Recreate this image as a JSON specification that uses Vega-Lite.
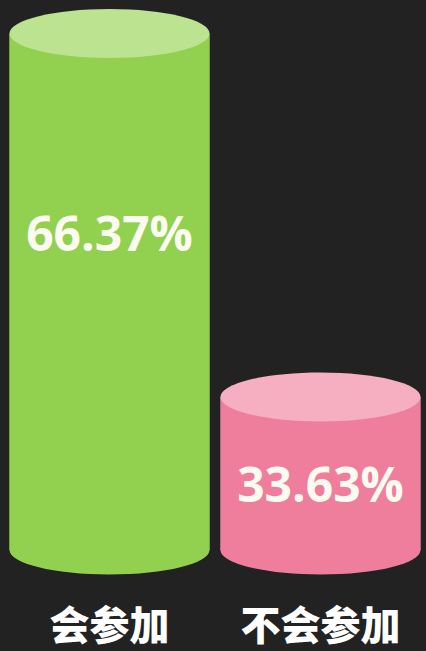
{
  "$schema": "https://vega.github.io/schema/vega-lite/v6.json",
  "width": 422,
  "height": 580,
  "autosize": "none",
  "padding": {"left": 4, "right": 0, "top": 0, "bottom": 71},
  "background": "#222222",
  "config": {"view": {"stroke": null}},
  "data": {"values": [
    {"option": "会参加", "value": 66.37, "label": "66.37%"},
    {"option": "不会参加", "value": 33.63, "label": "33.63%"}
  ]},
  "encoding": {
    "x": {
      "field": "option", "type": "nominal", "sort": null,
      "scale": {"paddingInner": 0.05, "paddingOuter": 0.025},
      "axis": {"title": null, "domain": false, "ticks": false, "labelAngle": 0,
        "labelFont": "Noto Sans CJK SC", "labelFontWeight": 900, "labelFontSize": 40,
        "labelColor": "#ffffff", "labelPadding": 27, "labelLimit": 400}
    }
  },
  "layer": [
    {
      "mark": {"type": "point", "filled": true, "opacity": 1, "size": 40000, "strokeWidth": 0,
        "shape": "M-1,0A1,0.245,0,1,0,1,0A1,0.245,0,1,0,-1,0Z"},
      "encoding": {
        "y": {"datum": 19.85, "type": "quantitative", "scale": {"domain": [19.85, 66.37], "range": [550, 33.5], "zero": false}, "axis": null},
        "color": {"field": "option", "type": "nominal", "scale": {"domain": ["会参加", "不会参加"], "range": ["#92D050", "#EF7E9C"]}, "legend": null}
      }
    },
    {
      "mark": {"type": "bar", "width": {"band": 1}},
      "encoding": {
        "y": {"field": "value", "type": "quantitative", "scale": {"domain": [19.85, 66.37], "range": [550, 33.5], "zero": false}, "axis": null},
        "y2": {"datum": 19.85},
        "color": {"field": "option", "type": "nominal", "scale": {"domain": ["会参加", "不会参加"], "range": ["#92D050", "#EF7E9C"]}, "legend": null}
      }
    },
    {
      "mark": {"type": "point", "filled": true, "opacity": 1, "size": 40000, "strokeWidth": 0,
        "shape": "M-1,0A1,0.245,0,1,0,1,0A1,0.245,0,1,0,-1,0Z"},
      "encoding": {
        "y": {"field": "value", "type": "quantitative", "scale": {"domain": [19.85, 66.37], "range": [550, 33.5], "zero": false}, "axis": null},
        "color": {"field": "option", "type": "nominal", "scale": {"domain": ["会参加", "不会参加"], "range": ["#BCE38F", "#F5AFC1"]}, "legend": null}
      }
    },
    {
      "mark": {"type": "text", "font": "Open Sans", "fontWeight": "bold", "fontSize": 48, "color": "#FBFBF2", "baseline": "middle", "align": "center"},
      "encoding": {
        "y": {"field": "value", "type": "quantitative", "scale": {"domain": [25.55, 92.91], "range": [550, 33.5], "zero": false}, "axis": null},
        "text": {"field": "label", "type": "nominal"}
      }
    }
  ],
  "resolve": {"scale": {"y": "independent", "color": "independent"}}
}
